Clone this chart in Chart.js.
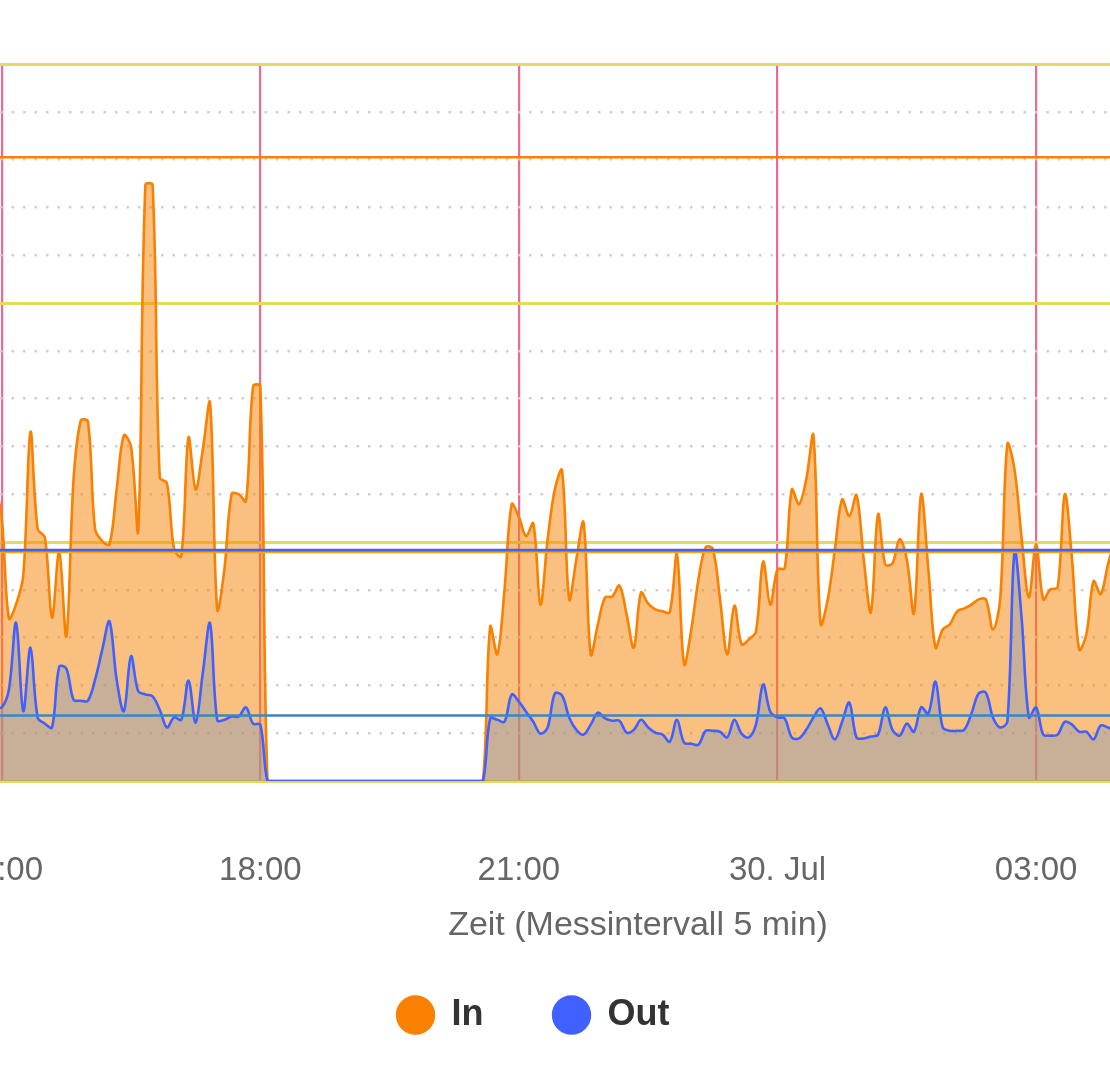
<!DOCTYPE html>
<html>
<head>
<meta charset="utf-8">
<title>Traffic</title>
<script src="https://cdn.jsdelivr.net/npm/chart.js@4"></script>
<style>
  html, body { margin: 0; padding: 0; overflow: hidden; background: #fff; }
  /* Ausschnitt: Diagramm ist breiter als das Fenster, links/rechts abgeschnitten */
  #wrap { position: absolute; left: -209px; top: 0; width: 1485px; height: 1080px; }
</style>
</head>
<body>
<div id="wrap"><canvas id="traffic"></canvas></div>
<script>
// Zeitachse: Minuten ab 29. Jul 15:00, Messintervall 5 min, erster Wert 14:55
const startMinute = -5;
const stepMinutes = 5;

const tickValues = [0, 180, 360, 540, 720];
const tickLabels = ["15:00", "18:00", "21:00", "30. Jul", "03:00"];

const inValues = [
  6.3, 5.5, 3.4, 3.7, 4.3, 7.3, 5.27, 5.1, 3.42, 4.8,
  3.03, 6.31, 7.54, 7.52, 5.27, 5.02, 4.95, 6.1, 7.23, 7.0,
  5.24, 12.47, 12.47, 6.35, 6.23, 4.85, 4.7, 7.19, 6.1, 6.94,
  7.91, 3.59, 4.43, 6.0, 6.0, 5.85, 8.26, 8.26,
  0, 0, 0, 0, 0, 0, 0, 0, 0, 0,
  0, 0, 0, 0, 0, 0, 0, 0, 0, 0,
  0, 0, 0, 0, 0, 0, 0, 0, 0, 0, 0,
  3.23, 2.65, 4.01, 5.79, 5.52, 5.12, 5.39, 3.69, 5.06, 6.1,
  6.5, 3.8, 4.64, 5.41, 2.65, 3.28, 3.84, 3.86, 4.09, 3.48,
  2.79, 3.94, 3.71, 3.59, 3.55, 3.53, 4.74, 2.44, 3.17, 4.22,
  4.89, 4.85, 3.8, 2.65, 3.67, 2.86, 2.96, 3.13, 4.59, 3.69,
  4.43, 4.45, 6.1, 5.79, 6.31, 7.23, 3.28, 3.8, 4.85, 5.89,
  5.54, 5.98, 4.64, 3.53, 5.58, 4.53, 4.55, 5.06, 4.64, 3.51,
  6.0, 4.43, 2.79, 3.17, 3.28, 3.55, 3.61, 3.69, 3.8, 3.8,
  3.17, 3.8, 7.05, 6.52, 5.06, 3.84, 4.95, 3.8, 4.01, 4.05,
  6.0, 4.64, 2.75, 3.07, 4.18, 3.91, 4.53, 5.06
];

const outValues = [
  1.54, 1.54, 1.91, 3.31, 1.46, 2.79, 1.33, 1.2, 1.12, 2.39,
  2.35, 1.7, 1.68, 1.68, 2.12, 2.75, 3.34, 2.12, 1.46, 2.61,
  1.88, 1.81, 1.77, 1.49, 1.12, 1.33, 1.28, 2.1, 1.22, 2.27,
  3.3, 1.27, 1.28, 1.35, 1.35, 1.54, 1.2, 1.18,
  0, 0, 0, 0, 0, 0, 0, 0, 0, 0,
  0, 0, 0, 0, 0, 0, 0, 0, 0, 0,
  0, 0, 0, 0, 0, 0, 0, 0, 0, 0, 0,
  1.31, 1.28, 1.24, 1.81, 1.66, 1.45, 1.24, 0.99, 1.12, 1.83,
  1.79, 1.33, 1.07, 0.97, 1.18, 1.43, 1.31, 1.26, 1.26, 1.01,
  1.07, 1.28, 1.12, 1.01, 0.97, 0.82, 1.28, 0.8, 0.78, 0.76,
  1.05, 1.05, 1.03, 0.91, 1.28, 0.99, 0.91, 1.18, 2.02, 1.45,
  1.33, 1.31, 0.91, 0.89, 1.07, 1.33, 1.52, 1.18, 0.87, 1.24,
  1.64, 0.91, 0.89, 0.93, 0.97, 1.54, 1.07, 0.95, 1.2, 1.03,
  1.54, 1.41, 2.08, 1.12, 1.05, 1.05, 1.07, 1.41, 1.83, 1.85,
  1.33, 1.12, 1.24, 4.8, 3.38, 1.33, 1.54, 0.97, 0.95, 0.97,
  1.24, 1.18, 1.03, 1.03, 0.87, 1.16, 1.12, 1.07
];

// Referenzlinien: In max, In Mittel, Out max, Out Mittel
const refLineValues = [13.05, 4.79, 4.83, 1.37];
const refLineColors = ["#ff8000", "#ffa500", "#4060ff", "#3d85c6"];

// Wertepaare für die lineare Zeitachse
const toPoints = (values) =>
  values.map((v, i) => ({ x: startMinute + i * stepMinutes, y: v }));

// Referenzlinien über die Flächen zeichnen
const refLinesPlugin = {
  id: "refLines",
  afterDatasetsDraw(chart) {
    const { ctx, chartArea, scales } = chart;
    ctx.save();
    ctx.lineWidth = 2.6;
    refLineValues.forEach((value, i) => {
      const py = scales.y.getPixelForValue(value);
      ctx.strokeStyle = refLineColors[i];
      ctx.beginPath();
      ctx.moveTo(chartArea.left, py);
      ctx.lineTo(chartArea.right, py);
      ctx.stroke();
    });
    ctx.restore();
  },
};

Chart.defaults.font.family = "'Liberation Sans', Arial, sans-serif";
Chart.defaults.color = "#666";

new Chart(document.getElementById("traffic"), {
  type: "line",
  data: {
    datasets: [
      {
        label: "In",
        data: toPoints(inValues),
        order: 2,
        borderColor: "#f98000",
        backgroundColor: "rgba(245, 130, 0, 0.5)",
        pointBackgroundColor: "#f98000",
        pointBorderColor: "#f98000",
        borderWidth: 2.6,
        pointRadius: 0,
        pointStyle: "circle",
        tension: 0.35,
        fill: "origin",
      },
      {
        label: "Out",
        data: toPoints(outValues),
        order: 1,
        borderColor: "#4060ff",
        backgroundColor: "rgba(140, 155, 180, 0.45)",
        pointBackgroundColor: "#4060ff",
        pointBorderColor: "#4060ff",
        borderWidth: 2.6,
        pointRadius: 0,
        pointStyle: "circle",
        tension: 0.35,
        fill: "origin",
      },
    ],
  },
  options: {
    responsive: true,
    maintainAspectRatio: false,
    animation: false,
    layout: { padding: { top: 64, bottom: 37, left: 0, right: 0 } },
    scales: {
      x: {
        type: "linear",
        min: -1.2,
        max: 887,
        afterBuildTicks: (scale) => {
          scale.ticks = tickValues.map((v) => ({ value: v }));
        },
        afterFit: (scale) => {
          scale.height = 146;
        },
        ticks: {
          callback: (value) => tickLabels[tickValues.indexOf(value)],
          font: { size: 33 },
          color: "#666",
          padding: 70,
          maxRotation: 0,
          autoSkip: false,
        },
        grid: { color: "#ee6a8f", lineWidth: 2.2, drawTicks: false },
        border: { display: false },
        title: {
          display: true,
          text: "Zeit (Messintervall 5 min)",
          color: "#666",
          font: { size: 34, lineHeight: "2px" },
          padding: 0,
        },
      },
      y: {
        min: 0,
        max: 15,
        afterFit: (scale) => {
          scale.width = 209;
        },
        ticks: { display: false, stepSize: 5 },
        grid: { color: "#e3dc5a", lineWidth: 3, drawTicks: false },
        border: { display: false },
      },
      y2: {
        position: "right",
        min: 0,
        max: 15,
        afterFit: (scale) => {
          scale.width = 0;
        },
        ticks: { display: false, stepSize: 1 },
        grid: {
          color: (c) => (c.tick.value % 5 === 0 ? "rgba(0,0,0,0)" : "#cfcfcf"),
          lineWidth: 2.5,
          drawTicks: false,
        },
        border: { display: false, dash: [2.5, 9] },
      },
    },
    plugins: {
      tooltip: { enabled: false },
      legend: {
        position: "bottom",
        labels: {
          usePointStyle: true,
          boxHeight: 26,
          padding: 70,
          color: "#333",
          font: { size: 36, weight: "bold" },
          sort: (a, b) => a.datasetIndex - b.datasetIndex,
        },
      },
    },
  },
  plugins: [refLinesPlugin],
});
</script>
</body>
</html>
